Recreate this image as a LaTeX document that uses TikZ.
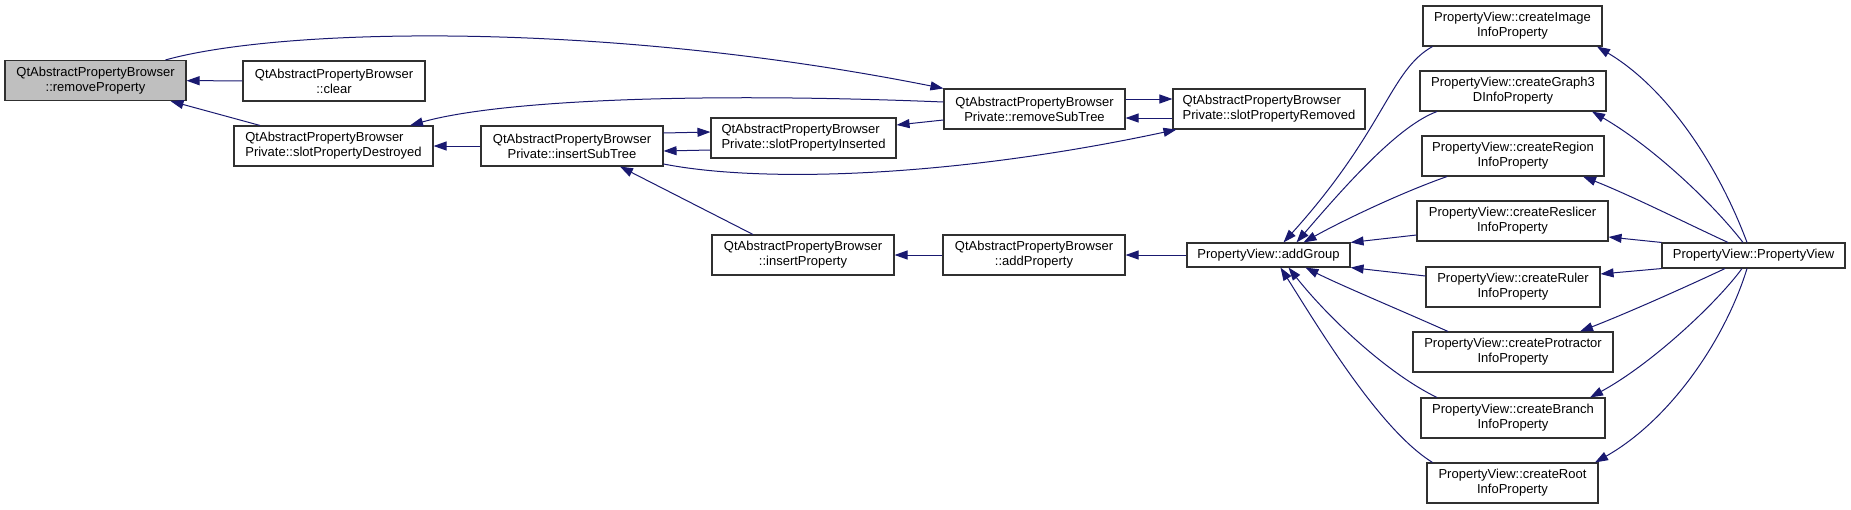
\documentclass[tikz,border=0pt]{standalone}
\usepackage{fontspec}
\setmainfont{Liberation Sans}
\usetikzlibrary{arrows.meta}
\definecolor{edgecol}{HTML}{191970}
\definecolor{rootfill}{HTML}{BFBFBF}
\definecolor{boxline}{HTML}{303030}
\begin{document}
\begin{tikzpicture}[x=1pt,y=-1pt,
  box/.style={draw=boxline, line width=1.1pt, fill=white, inner sep=0pt, align=center, font=\fontsize{13}{15}\selectfont},
  boxtwo/.style={box, minimum height=40pt},
  boxone/.style={box, minimum height=24pt},
  link/.style={draw=edgecol, line width=1pt, -{Triangle[length=13pt,width=9pt]}}]
\useasboundingbox (0,0) rectangle (1851,509);

% left part
\node[boxtwo, fill=rootfill, minimum width=181pt] (rp) at (95.5,80.5) {QtAbstractPropertyBrowser\\::removeProperty};
\node[boxtwo, minimum width=182pt] (clr) at (334,81) {QtAbstractPropertyBrowser\\::clear};
\node[boxtwo, minimum width=199pt, align=left] (spd) at (333.5,146) {QtAbstractPropertyBrowser\\Private::slotPropertyDestroyed};
\node[boxtwo, minimum width=182pt] (ist) at (572,146) {QtAbstractPropertyBrowser\\Private::insertSubTree};
\node[boxtwo, minimum width=185pt, align=left] (spi) at (803.5,138) {QtAbstractPropertyBrowser\\Private::slotPropertyInserted};
\node[boxtwo, minimum width=181pt] (rst) at (1034.5,109) {QtAbstractPropertyBrowser\\Private::removeSubTree};
\node[boxtwo, minimum width=192pt, align=left] (spr) at (1269,109) {QtAbstractPropertyBrowser\\Private::slotPropertyRemoved};
\node[boxtwo, minimum width=182pt] (ip) at (803,255) {QtAbstractPropertyBrowser\\::insertProperty};
\node[boxtwo, minimum width=182pt] (ap) at (1034,255) {QtAbstractPropertyBrowser\\::addProperty};
\node[boxone, minimum width=163pt] (ag) at (1268.5,255) {PropertyView::addGroup};

% right column
\node[boxtwo, minimum width=179pt] (ci) at (1512.5,26) {PropertyView::createImage\\InfoProperty};
\node[boxtwo, minimum width=186pt] (cg) at (1513,91) {PropertyView::createGraph3\\DInfoProperty};
\node[boxtwo, minimum width=182pt] (crg) at (1513,156) {PropertyView::createRegion\\InfoProperty};
\node[boxtwo, minimum width=191pt] (crs) at (1512.5,221) {PropertyView::createReslicer\\InfoProperty};
\node[boxtwo, minimum width=174pt] (cru) at (1513,287) {PropertyView::createRuler\\InfoProperty};
\node[boxtwo, minimum width=200pt] (cpt) at (1513,352) {PropertyView::createProtractor\\InfoProperty};
\node[boxtwo, minimum width=184pt] (cb) at (1513,418) {PropertyView::createBranch\\InfoProperty};
\node[boxtwo, minimum width=171pt] (cro) at (1512.5,483) {PropertyView::createRoot\\InfoProperty};
\node[boxone, minimum width=183pt, minimum height=25pt] (pv) at (1753.5,255.5) {PropertyView::PropertyView};

% edges, left part
\draw[link] (clr) -- (rp);
\draw[link] ([xshift=-73.5pt]spd.north) -- ([xshift=75pt]rp.south);
\draw[link] ([xshift=70pt]rp.north) .. controls (280,28) and (600,20) .. (rst.north west);
\draw[link] ([yshift=7pt]rst.west) .. controls (700,92) and (500,100) .. ([xshift=76.5pt]spd.north);
\draw[link] (ist) -- (spd);
\draw[link] ([yshift=13pt]ist.east) -- ([yshift=6pt]spi.west);
\draw[link] ([yshift=-12pt]spi.west) -- ([yshift=-5pt]ist.east);
\draw[link] ([yshift=-11pt]rst.west) -- ([yshift=13pt]spi.east);
\draw[link] ([yshift=-18pt]ist.east) .. controls (760,183) and (950,178) .. ([xshift=4pt]spr.south west);
\draw[link] ([yshift=10pt]rst.east) -- ([yshift=10pt]spr.west);
\draw[link] ([yshift=-9pt]spr.west) -- ([yshift=-9pt]rst.east);
\draw[link] ([xshift=-50pt]ip.north) -- ([xshift=48pt]ist.south);
\draw[link] (ap) -- (ip);
\draw[link] (ag) -- (ap);

% edges, creators to addGroup
\draw[link] ([xshift=-80pt]ci.south) .. controls (1390,70) and (1385,130) .. ([xshift=15pt]ag.north);
\draw[link] ([xshift=-76pt]cg.south) .. controls (1400,125) and (1350,180) .. ([xshift=28pt]ag.north);
\draw[link] ([xshift=-66pt]crg.south) .. controls (1400,193) and (1340,222) .. ([xshift=35pt]ag.north);
\draw[link] ([yshift=-14pt]crs.west) -- (ag.north east);
\draw[link] ([yshift=11pt]cru.west) -- (ag.south east);
\draw[link] ([xshift=-65pt]cpt.north) .. controls (1400,310) and (1340,285) .. ([xshift=37pt]ag.south);
\draw[link] ([xshift=-76pt]cb.north) .. controls (1390,375) and (1330,320) .. ([xshift=20pt]ag.south);
\draw[link] ([xshift=-80pt]cro.north) .. controls (1380,430) and (1320,330) .. ([xshift=12pt]ag.south);

% edges, PropertyView to creators
\draw[link] ([xshift=-6.5pt]pv.north) .. controls (1720,170) and (1670,90) .. ([xshift=84.5pt]ci.south);
\draw[link] ([xshift=-10.5pt]pv.north) .. controls (1710,200) and (1650,145) .. ([xshift=79pt]cg.south);
\draw[link] ([xshift=-25.5pt]pv.north) .. controls (1690,225) and (1630,195) .. ([xshift=70pt]crg.south);
\draw[link] (pv.north west) -- ([yshift=-16pt]crs.east);
\draw[link] (pv.south west) -- ([yshift=13pt]cru.east);
\draw[link] ([xshift=-28.5pt]pv.south) .. controls (1690,285) and (1630,312) .. ([xshift=67pt]cpt.north);
\draw[link] ([xshift=-11.5pt]pv.south) .. controls (1715,305) and (1650,365) .. ([xshift=77pt]cb.north);
\draw[link] ([xshift=-6.5pt]pv.south) .. controls (1725,340) and (1670,420) .. ([xshift=82.5pt]cro.north);
\end{tikzpicture}
\end{document}
